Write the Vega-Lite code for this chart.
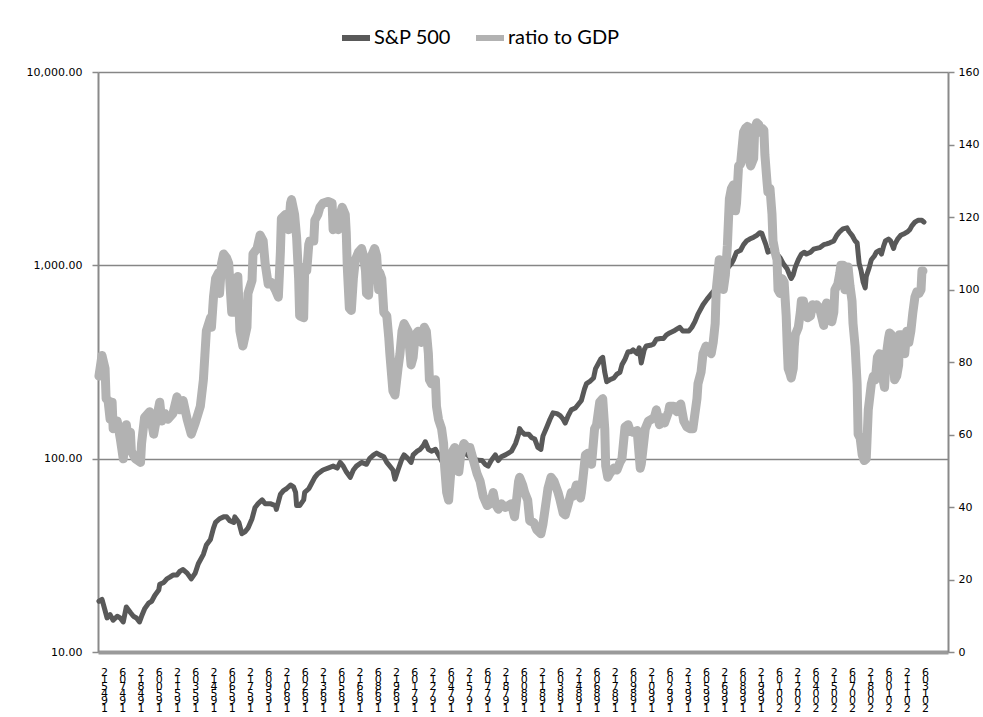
{
"$schema": "https://vega.github.io/schema/vega-lite/v6.json",
"width": 850, "height": 580,
"autosize": "none",
"padding": {"left": 98, "top": 72, "right": 35, "bottom": 65},
"background": "white",
"config": {"view": {"stroke": null}, "font": "DejaVu Sans"},
"datasets": {
"sp": [
{"date":"1945-07","sp":18.3},{"date":"1945-10","sp":18.7},{"date":"1946-01","sp":16.4},{"date":"1946-03","sp":15.0},{"date":"1946-06","sp":15.6},{"date":"1946-09","sp":14.6},{"date":"1947-01","sp":15.3},{"date":"1947-04","sp":15.0},{"date":"1947-07","sp":14.3},{"date":"1947-10","sp":17.1},{"date":"1948-02","sp":16.0},{"date":"1948-05","sp":15.3},{"date":"1948-08","sp":15.0},{"date":"1948-11","sp":14.3},{"date":"1949-01","sp":15.3},{"date":"1949-04","sp":16.7},{"date":"1949-08","sp":17.9},{"date":"1949-11","sp":18.3},{"date":"1950-02","sp":19.6},{"date":"1950-06","sp":20.9},{"date":"1950-07","sp":22.4},{"date":"1950-11","sp":22.9},{"date":"1951-02","sp":23.9},{"date":"1951-05","sp":24.4},{"date":"1951-08","sp":25.0},{"date":"1951-12","sp":25.0},{"date":"1952-03","sp":26.2},{"date":"1952-06","sp":26.7},{"date":"1952-10","sp":25.6},{"date":"1953-02","sp":23.9},{"date":"1953-06","sp":25.6},{"date":"1953-09","sp":28.6},{"date":"1954-02","sp":32.0},{"date":"1954-05","sp":35.8},{"date":"1954-09","sp":38.2},{"date":"1954-12","sp":43.7},{"date":"1955-02","sp":46.8},{"date":"1955-06","sp":48.9},{"date":"1955-10","sp":50.0},{"date":"1956-01","sp":50.0},{"date":"1956-04","sp":47.8},{"date":"1956-08","sp":46.8},{"date":"1956-09","sp":50.0},{"date":"1957-01","sp":46.8},{"date":"1957-04","sp":40.9},{"date":"1957-07","sp":41.8},{"date":"1957-10","sp":43.7},{"date":"1958-02","sp":48.9},{"date":"1958-05","sp":55.9},{"date":"1958-08","sp":58.5},{"date":"1958-12","sp":61.2},{"date":"1959-03","sp":58.5},{"date":"1959-08","sp":58.5},{"date":"1960-01","sp":57.2},{"date":"1960-02","sp":54.7},{"date":"1960-06","sp":65.4},{"date":"1960-09","sp":68.4},{"date":"1960-12","sp":69.9},{"date":"1961-04","sp":73.1},{"date":"1961-07","sp":71.5},{"date":"1961-09","sp":66.9},{"date":"1961-10","sp":57.2},{"date":"1962-01","sp":57.2},{"date":"1962-05","sp":61.2},{"date":"1962-06","sp":66.9},{"date":"1962-10","sp":69.9},{"date":"1963-01","sp":74.8},{"date":"1963-04","sp":80.0},{"date":"1963-07","sp":83.6},{"date":"1963-12","sp":87.4},{"date":"1964-05","sp":89.4},{"date":"1964-10","sp":91.5},{"date":"1965-02","sp":89.4},{"date":"1965-05","sp":95.6},{"date":"1965-08","sp":91.5},{"date":"1965-11","sp":85.5},{"date":"1966-03","sp":80.0},{"date":"1966-06","sp":87.4},{"date":"1966-09","sp":91.5},{"date":"1967-02","sp":95.6},{"date":"1967-07","sp":93.5},{"date":"1967-10","sp":100},{"date":"1968-02","sp":104.6},{"date":"1968-05","sp":106.9},{"date":"1968-08","sp":104.6},{"date":"1968-12","sp":102.3},{"date":"1969-03","sp":95.6},{"date":"1969-06","sp":91.5},{"date":"1969-09","sp":87.4},{"date":"1969-11","sp":78.2},{"date":"1970-02","sp":87.4},{"date":"1970-06","sp":100},{"date":"1970-08","sp":104.6},{"date":"1970-12","sp":100},{"date":"1971-03","sp":95.6},{"date":"1971-05","sp":104.6},{"date":"1971-09","sp":109.3},{"date":"1971-12","sp":111.8},{"date":"1972-03","sp":116.9},{"date":"1972-05","sp":122.3},{"date":"1972-08","sp":111.8},{"date":"1972-11","sp":109.3},{"date":"1973-03","sp":111.8},{"date":"1973-06","sp":104.6},{"date":"1973-09","sp":97.8},{"date":"1973-12","sp":90},{"date":"1974-02","sp":68},{"date":"1974-04","sp":62},{"date":"1974-06","sp":82},{"date":"1974-08","sp":105},{"date":"1974-10","sp":110},{"date":"1975-01","sp":92},{"date":"1975-04","sp":100},{"date":"1975-07","sp":108},{"date":"1975-10","sp":105},{"date":"1976-01","sp":102},{"date":"1976-04","sp":100},{"date":"1976-09","sp":98},{"date":"1977-01","sp":97.8},{"date":"1977-04","sp":93.5},{"date":"1977-07","sp":91.5},{"date":"1977-10","sp":97.8},{"date":"1978-02","sp":104.6},{"date":"1978-05","sp":97.8},{"date":"1978-08","sp":102.3},{"date":"1978-12","sp":104.6},{"date":"1979-03","sp":106.9},{"date":"1979-06","sp":109.3},{"date":"1979-10","sp":119.6},{"date":"1980-01","sp":133.7},{"date":"1980-02","sp":143.0},{"date":"1980-04","sp":138.0},{"date":"1980-07","sp":133.7},{"date":"1980-11","sp":133.7},{"date":"1981-02","sp":128.3},{"date":"1981-05","sp":126.3},{"date":"1981-08","sp":114.4},{"date":"1981-11","sp":111.8},{"date":"1982-01","sp":130.8},{"date":"1982-05","sp":146.2},{"date":"1982-08","sp":159.9},{"date":"1982-11","sp":172.6},{"date":"1983-03","sp":171.0},{"date":"1983-06","sp":167.2},{"date":"1983-09","sp":159.9},{"date":"1983-11","sp":152.9},{"date":"1984-02","sp":167.2},{"date":"1984-05","sp":178.8},{"date":"1984-09","sp":182.9},{"date":"1984-12","sp":191.2},{"date":"1985-03","sp":200.0},{"date":"1985-06","sp":228.7},{"date":"1985-08","sp":244.5},{"date":"1985-11","sp":250.0},{"date":"1986-03","sp":261.5},{"date":"1986-05","sp":292.4},{"date":"1986-08","sp":312.7},{"date":"1986-10","sp":327},{"date":"1986-12","sp":334.4},{"date":"1987-02","sp":279.7},{"date":"1987-04","sp":250},{"date":"1987-07","sp":255.7},{"date":"1987-11","sp":261.5},{"date":"1988-02","sp":273.5},{"date":"1988-05","sp":279.7},{"date":"1988-07","sp":305.8},{"date":"1988-10","sp":327},{"date":"1989-01","sp":357.6},{"date":"1989-04","sp":357.6},{"date":"1989-06","sp":365.7},{"date":"1989-10","sp":349.7},{"date":"1989-12","sp":373.9},{"date":"1990-02","sp":312.7},{"date":"1990-05","sp":365.7},{"date":"1990-07","sp":382.4},{"date":"1990-11","sp":385.8},{"date":"1991-02","sp":391.0},{"date":"1991-05","sp":414.5},{"date":"1991-09","sp":418.2},{"date":"1991-12","sp":418.2},{"date":"1992-03","sp":437.3},{"date":"1992-06","sp":447.2},{"date":"1992-10","sp":457.3},{"date":"1993-01","sp":467.7},{"date":"1993-04","sp":478.2},{"date":"1993-07","sp":457.3},{"date":"1993-09","sp":457.3},{"date":"1994-01","sp":457.3},{"date":"1994-04","sp":478.2},{"date":"1994-07","sp":511.3},{"date":"1994-10","sp":559.2},{"date":"1994-12","sp":584.8},{"date":"1995-03","sp":625.5},{"date":"1995-07","sp":668.9},{"date":"1995-10","sp":699.5},{"date":"1996-01","sp":731.3},{"date":"1996-03","sp":747.9},{"date":"1996-04","sp":799.8},{"date":"1996-07","sp":836.3},{"date":"1996-09","sp":874.5},{"date":"1997-01","sp":935.2},{"date":"1997-04","sp":977.9},{"date":"1997-07","sp":1022.6},{"date":"1997-09","sp":1069.3},{"date":"1997-12","sp":1169.5},{"date":"1998-04","sp":1196},{"date":"1998-07","sp":1278.9},{"date":"1998-10","sp":1337.3},{"date":"1999-01","sp":1367.5},{"date":"1999-05","sp":1398.5},{"date":"1999-08","sp":1430},{"date":"1999-11","sp":1475.4},{"date":"2000-01","sp":1462},{"date":"2000-03","sp":1367.5},{"date":"2000-05","sp":1278.9},{"date":"2000-07","sp":1169.5},{"date":"2000-09","sp":1196},{"date":"2000-12","sp":1169.5},{"date":"2001-04","sp":1143.7},{"date":"2001-07","sp":1093.7},{"date":"2001-10","sp":1022.6},{"date":"2002-02","sp":956.3},{"date":"2002-05","sp":874.5},{"date":"2002-06","sp":855.1},{"date":"2002-08","sp":894.3},{"date":"2002-10","sp":978},{"date":"2003-01","sp":1069.3},{"date":"2003-04","sp":1143.7},{"date":"2003-07","sp":1169.5},{"date":"2003-09","sp":1143.7},{"date":"2004-01","sp":1169.5},{"date":"2004-04","sp":1212},{"date":"2004-07","sp":1223},{"date":"2004-10","sp":1234},{"date":"2005-02","sp":1278.9},{"date":"2005-05","sp":1290.4},{"date":"2005-08","sp":1307.7},{"date":"2005-12","sp":1337.3},{"date":"2006-03","sp":1430},{"date":"2006-06","sp":1495.6},{"date":"2006-09","sp":1542.8},{"date":"2007-01","sp":1563.6},{"date":"2007-03","sp":1495.6},{"date":"2007-06","sp":1430},{"date":"2007-09","sp":1337.3},{"date":"2007-11","sp":1307.7},{"date":"2008-01","sp":1022.6},{"date":"2008-03","sp":935.2},{"date":"2008-05","sp":817.7},{"date":"2008-07","sp":764.7},{"date":"2008-08","sp":874.5},{"date":"2008-11","sp":978},{"date":"2009-01","sp":1069.3},{"date":"2009-04","sp":1118.2},{"date":"2009-06","sp":1169.5},{"date":"2009-09","sp":1196},{"date":"2009-11","sp":1143.7},{"date":"2010-01","sp":1250.8},{"date":"2010-03","sp":1337.3},{"date":"2010-06","sp":1367.5},{"date":"2010-08","sp":1337.3},{"date":"2010-11","sp":1223},{"date":"2010-12","sp":1278.9},{"date":"2011-03","sp":1367.5},{"date":"2011-06","sp":1430},{"date":"2011-10","sp":1462},{"date":"2012-01","sp":1495.6},{"date":"2012-03","sp":1529.4},{"date":"2012-05","sp":1599.6},{"date":"2012-08","sp":1672.5},{"date":"2012-11","sp":1710},{"date":"2013-03","sp":1710},{"date":"2013-05","sp":1672.5}
],
"ratio": [
{"date":"1945-07","ratio":76.1},{"date":"1945-10","ratio":81.8},{"date":"1946-01","ratio":78.2},{"date":"1946-02","ratio":69.9},{"date":"1946-04","ratio":69.4},{"date":"1946-06","ratio":64.2},{"date":"1946-08","ratio":68.9},{"date":"1946-09","ratio":61.6},{"date":"1947-01","ratio":63.7},{"date":"1947-04","ratio":59.0},{"date":"1947-07","ratio":53.3},{"date":"1947-10","ratio":62.7},{"date":"1947-12","ratio":58.5},{"date":"1948-02","ratio":60.6},{"date":"1948-03","ratio":55.4},{"date":"1948-07","ratio":53.3},{"date":"1948-12","ratio":52.3},{"date":"1949-01","ratio":57.5},{"date":"1949-04","ratio":64.7},{"date":"1949-09","ratio":66.3},{"date":"1950-01","ratio":60.1},{"date":"1950-04","ratio":64.7},{"date":"1950-07","ratio":68.9},{"date":"1950-09","ratio":63.7},{"date":"1950-12","ratio":65.8},{"date":"1951-03","ratio":64.2},{"date":"1951-08","ratio":65.8},{"date":"1951-12","ratio":70.4},{"date":"1952-03","ratio":66.8},{"date":"1952-06","ratio":69.4},{"date":"1952-10","ratio":64.2},{"date":"1953-02","ratio":60.1},{"date":"1953-06","ratio":63.2},{"date":"1953-11","ratio":67.8},{"date":"1954-02","ratio":75.1},{"date":"1954-05","ratio":88.6},{"date":"1954-09","ratio":92.2},{"date":"1954-10","ratio":89.6},{"date":"1954-12","ratio":97.9},{"date":"1955-02","ratio":103.0},{"date":"1955-05","ratio":104.6},{"date":"1955-06","ratio":98.9},{"date":"1955-08","ratio":107.2},{"date":"1955-10","ratio":109.8},{"date":"1956-01","ratio":108.7},{"date":"1956-03","ratio":107.2},{"date":"1956-06","ratio":93.7},{"date":"1956-09","ratio":93.7},{"date":"1956-12","ratio":103.6},{"date":"1957-02","ratio":88.6},{"date":"1957-05","ratio":84.4},{"date":"1957-09","ratio":89.6},{"date":"1957-10","ratio":98.9},{"date":"1958-02","ratio":102.5},{"date":"1958-03","ratio":109.8},{"date":"1958-07","ratio":111.3},{"date":"1958-10","ratio":115.0},{"date":"1959-01","ratio":113.4},{"date":"1959-03","ratio":107.2},{"date":"1959-06","ratio":101.5},{"date":"1959-09","ratio":102.0},{"date":"1960-01","ratio":99.9},{"date":"1960-04","ratio":97.9},{"date":"1960-06","ratio":110.3},{"date":"1960-07","ratio":119.6},{"date":"1960-11","ratio":120.7},{"date":"1961-02","ratio":116.5},{"date":"1961-04","ratio":123.8},{"date":"1961-05","ratio":124.8},{"date":"1961-08","ratio":120.7},{"date":"1961-10","ratio":114.4},{"date":"1961-12","ratio":103.0},{"date":"1962-01","ratio":92.7},{"date":"1962-05","ratio":92.2},{"date":"1962-06","ratio":106.2},{"date":"1962-08","ratio":105.1},{"date":"1962-10","ratio":112.4},{"date":"1962-11","ratio":113.4},{"date":"1963-03","ratio":113.4},{"date":"1963-04","ratio":119.1},{"date":"1963-07","ratio":120.7},{"date":"1963-09","ratio":122.7},{"date":"1963-12","ratio":123.8},{"date":"1964-05","ratio":124.3},{"date":"1964-09","ratio":123.8},{"date":"1964-10","ratio":116.5},{"date":"1965-02","ratio":120.7},{"date":"1965-03","ratio":116.5},{"date":"1965-05","ratio":120.7},{"date":"1965-07","ratio":122.7},{"date":"1965-10","ratio":120.7},{"date":"1965-11","ratio":115.5},{"date":"1965-12","ratio":106.2},{"date":"1966-02","ratio":94.8},{"date":"1966-04","ratio":94.2},{"date":"1966-06","ratio":103.0},{"date":"1966-08","ratio":108.2},{"date":"1966-11","ratio":110.3},{"date":"1967-02","ratio":111.3},{"date":"1967-04","ratio":109.3},{"date":"1967-06","ratio":105.1},{"date":"1967-07","ratio":98.9},{"date":"1967-09","ratio":98.4},{"date":"1967-10","ratio":103.0},{"date":"1967-12","ratio":109.3},{"date":"1968-03","ratio":111.3},{"date":"1968-05","ratio":109.3},{"date":"1968-07","ratio":99.9},{"date":"1968-08","ratio":104.6},{"date":"1968-10","ratio":103.0},{"date":"1968-12","ratio":93.7},{"date":"1969-03","ratio":92.7},{"date":"1969-05","ratio":86.5},{"date":"1969-06","ratio":82.3},{"date":"1969-09","ratio":72.0},{"date":"1969-11","ratio":70.9},{"date":"1970-02","ratio":78.2},{"date":"1970-04","ratio":82.3},{"date":"1970-06","ratio":88.5},{"date":"1970-08","ratio":90.6},{"date":"1970-12","ratio":88.5},{"date":"1971-03","ratio":79.2},{"date":"1971-05","ratio":81.3},{"date":"1971-07","ratio":87.5},{"date":"1971-10","ratio":88.5},{"date":"1972-01","ratio":85.4},{"date":"1972-04","ratio":89.6},{"date":"1972-06","ratio":88.5},{"date":"1972-08","ratio":82.3},{"date":"1972-09","ratio":75.1},{"date":"1972-11","ratio":74.0},{"date":"1973-03","ratio":75.1},{"date":"1973-04","ratio":67.8},{"date":"1973-06","ratio":64.2},{"date":"1973-09","ratio":61.6},{"date":"1973-11","ratio":57.5},{"date":"1973-12","ratio":51.3},{"date":"1974-02","ratio":44.0},{"date":"1974-04","ratio":41.9},{"date":"1974-06","ratio":49.2},{"date":"1974-08","ratio":55.4},{"date":"1974-10","ratio":56.4},{"date":"1975-01","ratio":51.3},{"date":"1975-02","ratio":49.7},{"date":"1975-04","ratio":54.4},{"date":"1975-07","ratio":57.5},{"date":"1975-10","ratio":56.4},{"date":"1976-01","ratio":56.4},{"date":"1976-04","ratio":53.3},{"date":"1976-08","ratio":49.2},{"date":"1976-11","ratio":47.1},{"date":"1977-02","ratio":43.0},{"date":"1977-06","ratio":40.4},{"date":"1977-09","ratio":40.9},{"date":"1977-12","ratio":44.0},{"date":"1978-02","ratio":40.9},{"date":"1978-05","ratio":39.4},{"date":"1978-08","ratio":40.9},{"date":"1978-12","ratio":39.9},{"date":"1979-03","ratio":40.4},{"date":"1979-06","ratio":40.9},{"date":"1979-09","ratio":37.3},{"date":"1979-11","ratio":41.9},{"date":"1980-01","ratio":47.1},{"date":"1980-02","ratio":48.2},{"date":"1980-05","ratio":46.1},{"date":"1980-07","ratio":44.0},{"date":"1980-10","ratio":41.9},{"date":"1980-12","ratio":36.2},{"date":"1981-04","ratio":35.7},{"date":"1981-07","ratio":33.7},{"date":"1981-11","ratio":32.6},{"date":"1982-01","ratio":35.2},{"date":"1982-05","ratio":43.0},{"date":"1982-06","ratio":45.1},{"date":"1982-09","ratio":48.2},{"date":"1982-12","ratio":47.1},{"date":"1983-04","ratio":44.0},{"date":"1983-06","ratio":41.9},{"date":"1983-09","ratio":38.3},{"date":"1983-11","ratio":37.8},{"date":"1984-02","ratio":40.9},{"date":"1984-05","ratio":44.0},{"date":"1984-07","ratio":43.0},{"date":"1984-10","ratio":46.1},{"date":"1985-02","ratio":42.5},{"date":"1985-03","ratio":44.0},{"date":"1985-05","ratio":49.2},{"date":"1985-07","ratio":54.4},{"date":"1985-10","ratio":54.9},{"date":"1986-01","ratio":51.8},{"date":"1986-04","ratio":61.6},{"date":"1986-06","ratio":62.7},{"date":"1986-09","ratio":68.9},{"date":"1986-12","ratio":69.9},{"date":"1987-02","ratio":61.6},{"date":"1987-03","ratio":51.3},{"date":"1987-05","ratio":48.2},{"date":"1987-07","ratio":49.2},{"date":"1987-11","ratio":50.7},{"date":"1988-02","ratio":50.2},{"date":"1988-05","ratio":52.3},{"date":"1988-07","ratio":53.3},{"date":"1988-10","ratio":62.1},{"date":"1989-01","ratio":62.7},{"date":"1989-03","ratio":61.1},{"date":"1989-06","ratio":60.6},{"date":"1989-10","ratio":61.1},{"date":"1990-01","ratio":50.7},{"date":"1990-02","ratio":51.8},{"date":"1990-06","ratio":61.6},{"date":"1990-09","ratio":63.7},{"date":"1990-12","ratio":64.2},{"date":"1991-03","ratio":64.7},{"date":"1991-05","ratio":66.8},{"date":"1991-08","ratio":62.7},{"date":"1991-10","ratio":64.7},{"date":"1992-01","ratio":63.2},{"date":"1992-05","ratio":66.3},{"date":"1992-06","ratio":67.8},{"date":"1992-10","ratio":67.8},{"date":"1993-01","ratio":66.3},{"date":"1993-03","ratio":67.8},{"date":"1993-05","ratio":68.4},{"date":"1993-08","ratio":63.7},{"date":"1993-11","ratio":62.1},{"date":"1994-02","ratio":61.6},{"date":"1994-05","ratio":61.6},{"date":"1994-09","ratio":69.9},{"date":"1994-10","ratio":74.0},{"date":"1995-01","ratio":77.2},{"date":"1995-03","ratio":82.3},{"date":"1995-06","ratio":84.4},{"date":"1995-08","ratio":83.9},{"date":"1995-11","ratio":82.3},{"date":"1996-01","ratio":85.4},{"date":"1996-03","ratio":90.6},{"date":"1996-04","ratio":99.9},{"date":"1996-07","ratio":108.2},{"date":"1996-09","ratio":105},{"date":"1996-11","ratio":100},{"date":"1997-01","ratio":104},{"date":"1997-03","ratio":112},{"date":"1997-05","ratio":125},{"date":"1997-07","ratio":127.9},{"date":"1997-09","ratio":128.9},{"date":"1997-11","ratio":121.7},{"date":"1997-12","ratio":123.8},{"date":"1998-02","ratio":134.1},{"date":"1998-04","ratio":134.6},{"date":"1998-07","ratio":143.4},{"date":"1998-09","ratio":144.5},{"date":"1998-11","ratio":145.0},{"date":"1999-01","ratio":135.1},{"date":"1999-02","ratio":134.1},{"date":"1999-05","ratio":136.2},{"date":"1999-06","ratio":144.5},{"date":"1999-08","ratio":146.0},{"date":"1999-10","ratio":145.5},{"date":"1999-11","ratio":143.4},{"date":"2000-01","ratio":144.5},{"date":"2000-03","ratio":144.0},{"date":"2000-04","ratio":137.2},{"date":"2000-06","ratio":130.0},{"date":"2000-07","ratio":126.9},{"date":"2000-09","ratio":127.9},{"date":"2000-11","ratio":120.7},{"date":"2000-12","ratio":113.4},{"date":"2001-02","ratio":110.3},{"date":"2001-04","ratio":108.2},{"date":"2001-05","ratio":99.9},{"date":"2001-07","ratio":98.9},{"date":"2001-09","ratio":103.0},{"date":"2001-11","ratio":102.0},{"date":"2002-01","ratio":92.7},{"date":"2002-02","ratio":84.4},{"date":"2002-03","ratio":78.2},{"date":"2002-05","ratio":76.6},{"date":"2002-06","ratio":75.6},{"date":"2002-08","ratio":78.2},{"date":"2002-09","ratio":84.4},{"date":"2002-10","ratio":87.5},{"date":"2003-01","ratio":89.6},{"date":"2003-03","ratio":93.7},{"date":"2003-04","ratio":96.8},{"date":"2003-06","ratio":96.8},{"date":"2003-08","ratio":93.7},{"date":"2003-10","ratio":92.2},{"date":"2004-01","ratio":92.7},{"date":"2004-03","ratio":95.8},{"date":"2004-05","ratio":94.8},{"date":"2004-07","ratio":95.8},{"date":"2004-10","ratio":94.8},{"date":"2005-02","ratio":90.1},{"date":"2005-03","ratio":94.8},{"date":"2005-05","ratio":96.3},{"date":"2005-07","ratio":95.3},{"date":"2005-10","ratio":91.1},{"date":"2005-12","ratio":93.7},{"date":"2006-01","ratio":99.9},{"date":"2006-04","ratio":101.5},{"date":"2006-06","ratio":104.6},{"date":"2006-07","ratio":106.7},{"date":"2006-09","ratio":106.7},{"date":"2006-11","ratio":99.9},{"date":"2007-01","ratio":106.2},{"date":"2007-02","ratio":106.2},{"date":"2007-04","ratio":101.0},{"date":"2007-06","ratio":96.8},{"date":"2007-07","ratio":90.6},{"date":"2007-09","ratio":84.4},{"date":"2007-11","ratio":74.0},{"date":"2007-12","ratio":60.1},{"date":"2008-02","ratio":59.0},{"date":"2008-04","ratio":54.4},{"date":"2008-06","ratio":52.8},{"date":"2008-08","ratio":53.3},{"date":"2008-10","ratio":66.8},{"date":"2009-01","ratio":74.0},{"date":"2009-03","ratio":76.1},{"date":"2009-05","ratio":75.1},{"date":"2009-07","ratio":81.3},{"date":"2009-09","ratio":82.3},{"date":"2009-11","ratio":79.2},{"date":"2009-12","ratio":76.1},{"date":"2010-02","ratio":73.0},{"date":"2010-04","ratio":82.3},{"date":"2010-06","ratio":86.5},{"date":"2010-07","ratio":88.0},{"date":"2010-09","ratio":87.5},{"date":"2010-11","ratio":81.3},{"date":"2010-12","ratio":75.1},{"date":"2011-02","ratio":76.1},{"date":"2011-04","ratio":79.2},{"date":"2011-05","ratio":87.5},{"date":"2011-07","ratio":87.5},{"date":"2011-09","ratio":86.5},{"date":"2011-10","ratio":82.3},{"date":"2011-12","ratio":88.5},{"date":"2012-02","ratio":85.4},{"date":"2012-04","ratio":88.5},{"date":"2012-06","ratio":93.7},{"date":"2012-08","ratio":97.9},{"date":"2012-10","ratio":99.4},{"date":"2012-12","ratio":98.9},{"date":"2013-02","ratio":99.9},{"date":"2013-03","ratio":105.1},{"date":"2013-04","ratio":105.1}
]
},
"layer": [
{
"data": {"name": "sp"},
"mark": {"type": "line", "strokeWidth": 5, "strokeCap": "round", "strokeJoin": "round"},
"encoding": {
"x": {"field": "date", "type": "temporal",
 "scale": {"type": "utc", "domain": [{"year":1945,"month":6,"date":3,"utc":true},{"year":2015,"month":4,"date":22,"utc":true}]},
 "axis": {"title": null, "grid": false, "ticks": false, "tickCount": 100,
  "domainColor": "#9a9a9a", "domainWidth": 4,
  "values": [{"year":1945,"month":12,"utc":true},{"year":1947,"month":6,"utc":true},{"year":1948,"month":12,"utc":true},{"year":1950,"month":6,"utc":true},{"year":1951,"month":12,"utc":true},{"year":1953,"month":6,"utc":true},{"year":1954,"month":12,"utc":true},{"year":1956,"month":6,"utc":true},{"year":1957,"month":12,"utc":true},{"year":1959,"month":6,"utc":true},{"year":1960,"month":12,"utc":true},{"year":1962,"month":6,"utc":true},{"year":1963,"month":12,"utc":true},{"year":1965,"month":6,"utc":true},{"year":1966,"month":12,"utc":true},{"year":1968,"month":6,"utc":true},{"year":1969,"month":12,"utc":true},{"year":1971,"month":6,"utc":true},{"year":1972,"month":12,"utc":true},{"year":1974,"month":6,"utc":true},{"year":1975,"month":12,"utc":true},{"year":1977,"month":6,"utc":true},{"year":1978,"month":12,"utc":true},{"year":1980,"month":6,"utc":true},{"year":1981,"month":12,"utc":true},{"year":1983,"month":6,"utc":true},{"year":1984,"month":12,"utc":true},{"year":1986,"month":6,"utc":true},{"year":1987,"month":12,"utc":true},{"year":1989,"month":6,"utc":true},{"year":1990,"month":12,"utc":true},{"year":1992,"month":6,"utc":true},{"year":1993,"month":12,"utc":true},{"year":1995,"month":6,"utc":true},{"year":1996,"month":12,"utc":true},{"year":1998,"month":6,"utc":true},{"year":1999,"month":12,"utc":true},{"year":2001,"month":6,"utc":true},{"year":2002,"month":12,"utc":true},{"year":2004,"month":6,"utc":true},{"year":2005,"month":12,"utc":true},{"year":2007,"month":6,"utc":true},{"year":2008,"month":12,"utc":true},{"year":2010,"month":6,"utc":true},{"year":2011,"month":12,"utc":true},{"year":2013,"month":6,"utc":true}],
  "labelExpr": "reverse(split(utcFormat(datum.value, '%Y%m'), ''))",
  "labelFont": "DejaVu Sans", "labelFontSize": 11, "labelLineHeight": 7.2, "labelColor": "#000000",
  "labelAngle": 0, "labelAlign": "center", "labelBaseline": "top", "labelPadding": 14,
  "labelOverlap": false, "labelFlush": false, "labelBound": false}},
"y": {"field": "sp", "type": "quantitative",
 "scale": {"type": "log", "domain": [10, 10000], "nice": false},
 "axis": {"title": null, "orient": "left", "values": [10, 100, 1000, 10000], "format": ",.2f",
  "labelFont": "DejaVu Sans", "labelFontSize": 11, "labelColor": "#000000", "labelPadding": 10,
  "tickColor": "#8a8a8a", "tickSize": 6, "tickWidth": 1.5,
  "domainColor": "#8a8a8a", "domainWidth": 2,
  "grid": true, "gridColor": "#868686", "gridWidth": 1.5}},
"color": {"datum": "S&P 500", "type": "nominal",
 "scale": {"domain": ["S&P 500", "ratio to GDP"], "range": ["#595959", "#b2b2b2"]},
 "legend": {"title": null, "orient": "none", "legendX": 241, "legendY": -51, "direction": "horizontal",
  "symbolType": "stroke", "symbolStrokeWidth": 6, "symbolSize": 784,
  "labelFont": "Lato", "labelFontSize": 20, "labelColor": "#000000", "labelOffset": 1,
  "columnPadding": 12, "padding": 0}}
}
},
{
"data": {"name": "ratio"},
"mark": {"type": "line", "strokeWidth": 9, "strokeCap": "round", "strokeJoin": "round"},
"encoding": {
"x": {"field": "date", "type": "temporal"},
"y": {"field": "ratio", "type": "quantitative",
 "scale": {"domain": [0, 160], "nice": false},
 "axis": {"title": null, "orient": "right", "values": [0, 20, 40, 60, 80, 100, 120, 140, 160], "format": "d",
  "labelFont": "DejaVu Sans", "labelFontSize": 11, "labelColor": "#000000", "labelPadding": 4,
  "tickColor": "#8a8a8a", "tickSize": 6, "tickWidth": 1.5,
  "domainColor": "#8a8a8a", "domainWidth": 2, "grid": false}},
"color": {"datum": "ratio to GDP", "type": "nominal"}
}
}
],
"resolve": {"scale": {"y": "independent"}}
}
